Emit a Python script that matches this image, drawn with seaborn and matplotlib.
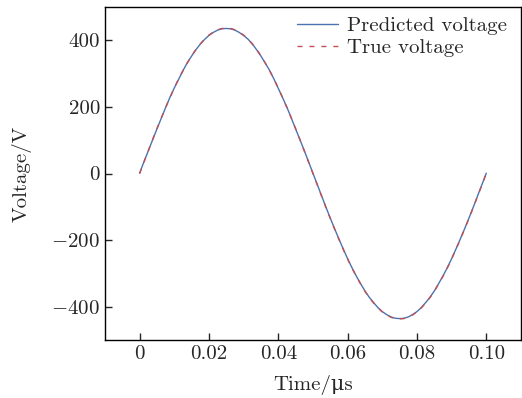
import matplotlib
matplotlib.use("Agg")
import matplotlib.pyplot as plt
import seaborn as sns
import pandas as pd

time_us = [i / 800 for i in range(81)]
true_voltage = [0, 34, 68, 102, 135, 167, 198, 228, 257, 284,
                309, 332, 354, 373, 389, 404, 416, 425, 432, 436,
                437, 436, 432, 425, 416, 404, 389, 373, 354, 332,
                309, 284, 257, 228, 198, 167, 135, 102, 68, 34,
                0, -34, -68, -102, -135, -167, -198, -228, -257, -284,
                -309, -332, -354, -373, -389, -404, -416, -425, -432, -436,
                -437, -436, -432, -425, -416, -404, -389, -373, -354, -332,
                -309, -284, -257, -228, -198, -167, -135, -102, -68, -34, 0]
pred_voltage = [1, 35, 68, 101, 134, 166, 198, 229, 257, 283,
                309, 333, 353, 372, 389, 403, 415, 424, 431, 435,
                436, 435, 431, 424, 415, 404, 390, 372, 353, 332,
                310, 284, 256, 228, 199, 167, 134, 102, 69, 35,
                1, -33, -67, -101, -134, -166, -197, -227, -256, -283,
                -308, -331, -353, -372, -388, -403, -415, -424, -431, -435,
                -436, -435, -431, -424, -415, -403, -388, -372, -353, -331,
                -308, -283, -256, -227, -197, -166, -134, -101, -67, -33, 1]

sns.set_style("ticks")
plt.rcParams['font.family'] = ['cmr10', 'DejaVu Serif']
plt.rcParams['mathtext.fontset'] = 'cm'
plt.rcParams['axes.formatter.use_mathtext'] = True
plt.rcParams['axes.unicode_minus'] = True

df = pd.DataFrame({"t": time_us, "true": true_voltage, "pred": pred_voltage})

fig = plt.figure(figsize=(5.22, 3.98), dpi=100)
ax = fig.add_axes([0.201, 0.146, 0.797, 0.836])

sns.lineplot(data=df, x="t", y="pred", ax=ax, color="#4C72B0", lw=1.0,
             label="Predicted voltage")
sns.lineplot(data=df, x="t", y="true", ax=ax, color="#C44E52", lw=1.0,
             linestyle=(0, (3.6, 5)), label="True voltage")

ax.set_xlim(-0.01, 0.11)
ax.set_ylim(-500, 500)
ax.set_xticks([0, 0.02, 0.04, 0.06, 0.08, 0.10])
ax.set_xticklabels(["0", "0.02", "0.04", "0.06", "0.08", "0.10"])
ax.set_yticks([-400, -200, 0, 200, 400])
ax.set_yticklabels(["$-400$", "$-200$", "0", "200", "400"])
ax.tick_params(direction="in", length=5, width=1, labelsize=15)
for s in ax.spines.values():
    s.set_linewidth(1.0)
    s.set_color("black")
ax.set_xlabel("Time/μs", fontsize=15, labelpad=9)
ax.set_ylabel("Voltage/V", fontsize=15, labelpad=14)
ax.legend(loc="upper right", bbox_to_anchor=(0.988, 1.0), frameon=False,
          fontsize=15, handlelength=2.0, borderaxespad=0.05,
          labelspacing=0.15, handletextpad=0.4)

fig.savefig("out.png", dpi=100)
